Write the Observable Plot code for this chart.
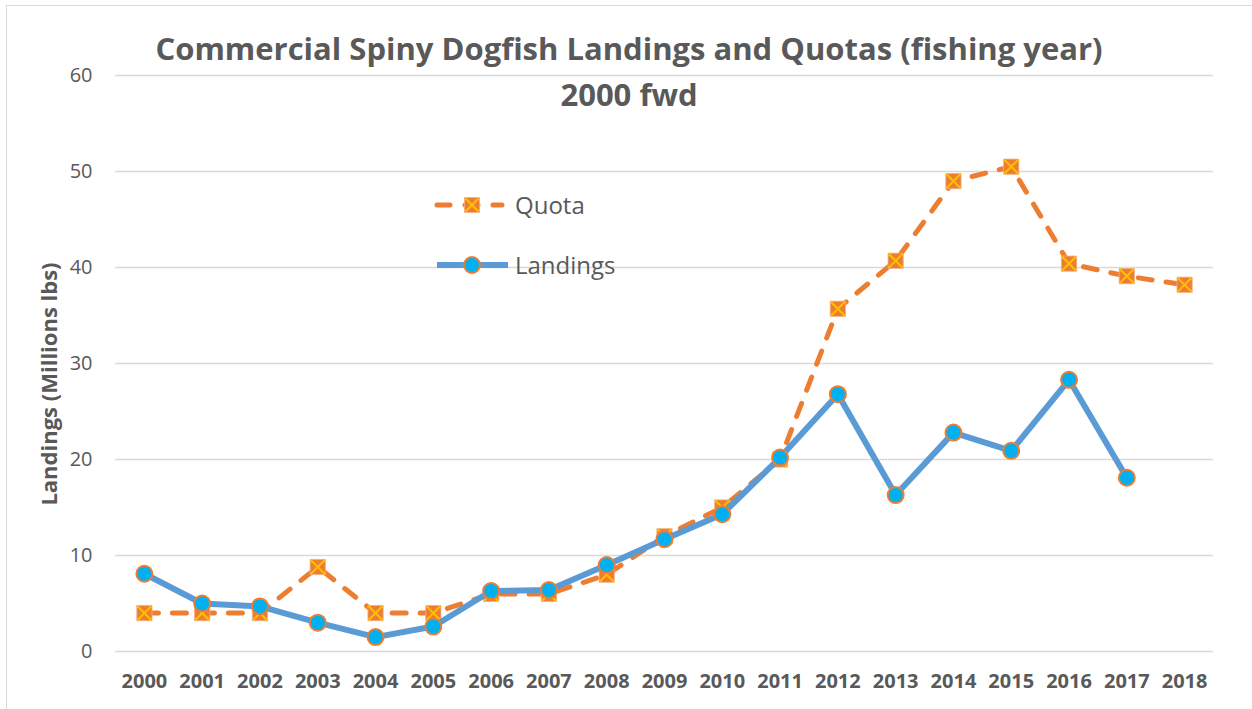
<!DOCTYPE html>
<html><head><meta charset="utf-8">
<script src="https://cdn.jsdelivr.net/npm/d3@7"></script>
<script src="https://cdn.jsdelivr.net/npm/@observablehq/plot@0.6"></script>
<style>
body{margin:0;background:#fff;}
#wrap{position:relative;width:1252px;height:709px;overflow:hidden;font-family:"Open Sans",sans-serif;background:#fff;}
#border{position:absolute;left:6px;top:5px;width:1300px;height:800px;border:1.5px solid #d9d9d9;box-sizing:border-box;}
#title{position:absolute;left:0;width:1258px;top:25px;text-align:center;font-weight:bold;font-size:31px;color:#595959;line-height:46px;white-space:nowrap;}
#ytitle{position:absolute;left:-152px;top:369px;width:400px;height:30px;line-height:30px;text-align:center;font-weight:bold;font-size:22px;color:#595959;transform:rotate(-90deg);transform-origin:200px 15px;white-space:nowrap;}
#chart{position:absolute;left:0;top:0;}
#legend{position:absolute;left:0;top:0;pointer-events:none;}
</style>
</head><body>
<div id="wrap">
  <div id="border"></div>
  <div id="chart"></div>
  <div id="title">Commercial Spiny Dogfish Landings and Quotas (fishing year)<br>2000 fwd</div>
  <div id="ytitle"></div>
  <svg id="legend" width="1252" height="709"></svg>
</div>
<script>
const years = ["2000","2001","2002","2003","2004","2005","2006","2007","2008","2009","2010","2011","2012","2013","2014","2015","2016","2017","2018"];
const quota = [4.0,4.0,4.0,8.8,4.0,4.0,6.0,6.0,8.0,12.0,15.0,20.0,35.7,40.7,49.0,50.5,40.4,39.1,38.2];
const landings = [8.1,5.0,4.7,3.0,1.5,2.6,6.3,6.4,9.0,11.7,14.3,20.2,26.8,16.3,22.8,20.9,28.3,18.1,null];
const yTicks = [0,10,20,30,40,50,60];
const seriesNames = ["Quota","Landings"];
const yTitle = "Landings (Millions lbs)";

document.getElementById("ytitle").textContent = yTitle;

const qData = years.map((y,i)=>({year:y, value:quota[i]}));
const lData = years.map((y,i)=>({year:y, value:landings[i]})).filter(d=>d.value!=null);

const C = {quota:"#ED7D31", cross:"#FFC000", line:"#5B9BD5", dot:"#00B0F0", text:"#595959", grid:"#d9d9d9"};

const chart = Plot.plot({
  width:1252, height:709,
  marginLeft:115, marginRight:39, marginTop:75, marginBottom:58,
  x:{type:"point", domain:years, padding:0.5, round:false},
  y:{domain:[0,60]},
  style:{fontFamily:"'Open Sans', sans-serif", background:"transparent", color:C.text},
  marks:[
    Plot.gridY(yTicks,{stroke:C.grid, strokeOpacity:1, strokeWidth:1.5}),
    Plot.axisY({ticks:yTicks, tickSize:0, tickPadding:23, fontSize:20, fill:C.text, label:null}),
    Plot.axisX({tickSize:0, tickPadding:22, fontSize:20, fontWeight:"bold", fill:C.text, label:null}),
    Plot.line(qData,{x:"year", y:"value", stroke:C.quota, strokeWidth:5, strokeDasharray:"14,14", strokeLinecap:"round"}),
    Plot.dot(qData,{x:"year", y:"value", symbol:"square", r:8.6, fill:C.quota, stroke:"#F4B183", strokeWidth:0.8}),
    Plot.dot(qData,{x:"year", y:"value", symbol:"times", r:6.5, stroke:C.cross, strokeWidth:2}),
    Plot.line(lData,{x:"year", y:"value", stroke:C.line, strokeWidth:6, strokeLinejoin:"round"}),
    Plot.dot(lData,{x:"year", y:"value", r:8, fill:C.dot, stroke:C.quota, strokeWidth:2})
  ]
});
document.getElementById("chart").appendChild(chart);

// legend
const lg = d3.select("#legend");
const rows = [
  {name:seriesNames[0], y:205, x2:502},
  {name:seriesNames[1], y:265, x2:508}
];
lg.append("line").attr("x1",437).attr("x2",rows[0].x2).attr("y1",rows[0].y).attr("y2",rows[0].y)
  .attr("stroke",C.quota).attr("stroke-width",5).attr("stroke-dasharray","13,15").attr("stroke-linecap","round");
lg.append("rect").attr("x",472-7.5).attr("y",rows[0].y-7.5).attr("width",15).attr("height",15).attr("fill",C.quota).attr("stroke","#F4B183").attr("stroke-width",0.8);
lg.append("path").attr("d",`M${472-6.5},${rows[0].y-6.5}L${472+6.5},${rows[0].y+6.5}M${472-6.5},${rows[0].y+6.5}L${472+6.5},${rows[0].y-6.5}`).attr("stroke",C.cross).attr("stroke-width",2);
lg.append("line").attr("x1",437).attr("x2",rows[1].x2).attr("y1",rows[1].y).attr("y2",rows[1].y)
  .attr("stroke",C.line).attr("stroke-width",6);
lg.append("circle").attr("cx",472).attr("cy",rows[1].y).attr("r",8).attr("fill",C.dot).attr("stroke",C.quota).attr("stroke-width",2);
rows.forEach(r=>{
  lg.append("text").attr("x",515).attr("y",r.y+9).attr("font-family","'Open Sans', sans-serif").attr("font-size",24).attr("fill",C.text).text(r.name);
});
</script>
</body></html>
